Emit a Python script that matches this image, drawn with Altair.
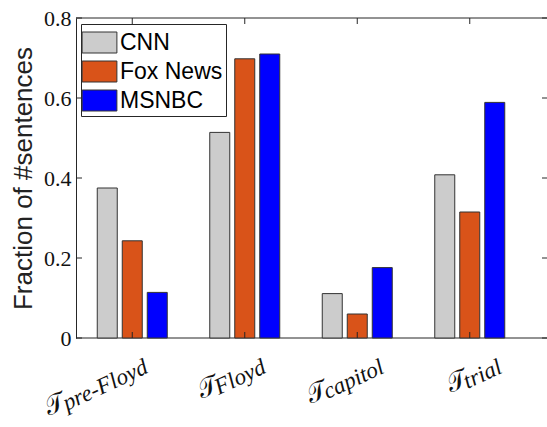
import altair as alt
import pandas as pd

# Share of sentences per outlet in each time period
periods = ["pre-Floyd", "Floyd", "capitol", "trial"]
outlets = ["CNN", "Fox News", "MSNBC"]
cnn = [0.375, 0.514, 0.111, 0.408]
fox = [0.243, 0.698, 0.060, 0.315]
msnbc = [0.114, 0.710, 0.176, 0.589]
outlet_colors = ["#cccccc", "#d95319", "#0000ff"]
y_ticks = [0, 0.2, 0.4, 0.6, 0.8]

W, H = 471, 320
GROUP_SPAN = 450
LABEL_SPAN = 472
INK = "#262626"

rows = []
for i, p in enumerate(periods):
    for o, vals in zip(outlets, [cnn, fox, msnbc]):
        rows.append({"period": p, "outlet": o, "fraction": vals[i]})
df = pd.DataFrame(rows)

# approximate advance widths (em) of a Times-like italic face
ITALIC_EM = {"p": .5, "r": .389, "e": .444, "-": .333, "F": .611, "l": .278,
             "o": .5, "y": .444, "d": .5, "c": .444, "a": .5, "i": .278, "t": .278}


def text_width(s, size):
    return sum(ITALIC_EM.get(ch, .5) for ch in s) * size


SUB_SIZE = 23
T_SIZE = 26
ANGLE = 335
SUB_DX = 16
LABEL_Y = H + 41
T_GAP = -3

bar_scale = alt.Scale(domain=periods, range=[0, GROUP_SPAN], paddingInner=0, paddingOuter=0)
label_scale = alt.Scale(domain=periods, range=[0, LABEL_SPAN], paddingInner=0, paddingOuter=0)
y_scale = alt.Scale(domain=[y_ticks[0], y_ticks[-1]], nice=False)

bar_shape = "M-1.16,-0.7H1.16V0.7H-1.16Z"

bars = alt.Chart(df).mark_bar(stroke="#333333", strokeWidth=1).encode(
    x=alt.X("period:N", sort=periods, scale=bar_scale, axis=None),
    xOffset=alt.XOffset("outlet:N", sort=outlets,
                        scale=alt.Scale(paddingInner=0.2, paddingOuter=0.85)),
    y=alt.Y("fraction:Q", scale=y_scale,
            axis=alt.Axis(orient="left", values=y_ticks, ticks=False, grid=False,
                          domain=True, domainColor=INK, domainWidth=1,
                          labelExpr="datum.value == 0 ? '0' : format(datum.value, '.1f')",
                          labelFont="Liberation Serif", labelFontSize=22,
                          labelColor="#111111", labelPadding=5,
                          title="Fraction of #sentences", titleFont="Liberation Sans",
                          titleFontSize=26, titleFontWeight="normal",
                          titleColor="#222222", titleAngle=270, titleX=-45,
                          titleY=H / 2, titleAlign="center",
                          titleBaseline="alphabetic")),
    color=alt.Color("outlet:N", sort=outlets,
                    scale=alt.Scale(domain=outlets, range=outlet_colors),
                    legend=alt.Legend(title=None, orient="none", legendX=5, legendY=6,
                                      symbolType=bar_shape, symbolSize=900,
                                      symbolStrokeColor="#333333", symbolStrokeWidth=1,
                                      symbolOpacity=1,
                                      labelFont="Liberation Sans", labelFontSize=23,
                                      labelColor="#000000", labelOffset=5, labelLimit=0,
                                      strokeColor=INK, fillColor="white",
                                      padding=3, rowPadding=1)),
)

period_df = pd.DataFrame({"period": periods})
x_ticks_bottom = alt.Chart(period_df).mark_rule(color=INK).encode(
    x=alt.X("period:N", sort=periods, scale=bar_scale, axis=None, bandPosition=0.5),
    y=alt.value(H), y2=alt.value(H - 6))
x_ticks_top = alt.Chart(period_df).mark_rule(color=INK).encode(
    x=alt.X("period:N", sort=periods, scale=bar_scale, axis=None, bandPosition=0.5),
    y=alt.value(0), y2=alt.value(6))

tick_df = pd.DataFrame({"fraction": y_ticks})
y_ticks_left = alt.Chart(tick_df).mark_rule(color=INK).encode(
    y=alt.Y("fraction:Q", scale=y_scale), x=alt.value(0), x2=alt.value(6))
y_ticks_right = alt.Chart(tick_df).mark_rule(color=INK).encode(
    y=alt.Y("fraction:Q", scale=y_scale), x=alt.value(W - 5), x2=alt.value(W))

edge_df = pd.DataFrame({"fraction": [y_ticks[0], y_ticks[-1]]})
frame = alt.Chart(edge_df).mark_rule(color=INK, strokeWidth=1).encode(
    y=alt.Y("fraction:Q", scale=y_scale), x=alt.value(0), x2=alt.value(W))

# period labels: calligraphic T with the period name as subscript
label_style = dict(angle=ANGLE, align="right", baseline="alphabetic", color="#111111")

sub_layer = alt.Chart(period_df).mark_text(
    dx=SUB_DX, font="Liberation Serif", fontStyle="italic", fontSize=SUB_SIZE,
    **label_style).encode(
    x=alt.X("period:N", sort=periods, scale=label_scale, axis=None),
    y=alt.value(LABEL_Y), text="period:N")

t_layers = []
for p in periods:
    t_layers.append(
        alt.Chart(period_df).transform_filter(alt.datum.period == p).mark_text(
            dx=SUB_DX - text_width(p, SUB_SIZE) - T_GAP, dy=-3,
            font="DejaVu Serif, DejaVu Sans, serif", fontSize=T_SIZE,
            **label_style).encode(
            x=alt.X("period:N", sort=periods, scale=label_scale, axis=None),
            y=alt.value(LABEL_Y), text=alt.value("𝒯"))
    )

chart = alt.layer(
    frame, bars, x_ticks_bottom, x_ticks_top, y_ticks_left, y_ticks_right,
    sub_layer, *t_layers
).resolve_scale(x="independent").properties(
    width=W, height=H,
    autosize=alt.AutoSizeParams(type="none"),
    padding={"left": 76, "top": 18, "right": 0, "bottom": 89},
).configure_view(stroke=None)

chart.save("out.html", embed_options={"renderer": "svg", "actions": False})
